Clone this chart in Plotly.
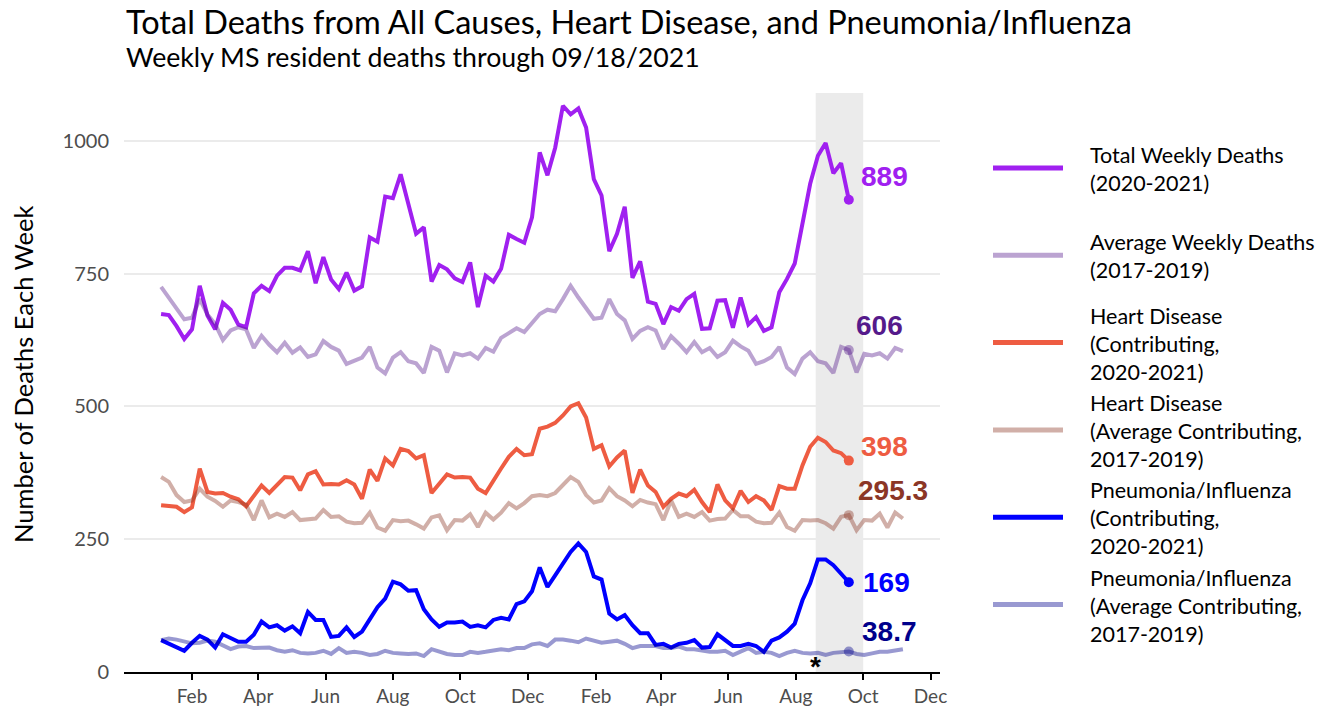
import plotly.graph_objects as go
import pandas as pd

# ---------------- data ----------------
weeks_current = pd.date_range("2020-01-04", "2021-09-18", freq="7D")   # weeks ending Saturday
weeks_avg = pd.date_range("2020-01-04", "2021-11-06", freq="7D")

total_2020_21 = [674, 672, 651, 627, 645, 727, 671, 645, 695, 682, 654, 649, 713, 727, 717, 746,
                 761, 761, 756, 792, 732, 781, 739, 721, 752, 718, 726, 818, 810, 895, 892, 937,
                 881, 825, 837, 735, 766, 758, 741, 734, 771, 687, 746, 735, 759, 823, 815, 808,
                 856, 978, 935, 987, 1066, 1050, 1061, 1025, 928, 897, 792, 825, 876, 742, 773, 697,
                 693, 655, 687, 680, 702, 712, 646, 647, 699, 700, 648, 705, 654, 668, 642, 649,
                 715, 740, 769, 843, 919, 972, 996, 939, 958, 889]

avg_total_2017_19 = [725, 705, 684, 664, 667, 702, 673, 655, 625, 643, 649, 645, 610, 633, 616, 602,
                     620, 601, 611, 593, 598, 623, 612, 605, 580, 586, 592, 612, 573, 562, 592, 602,
                     585, 581, 563, 612, 605, 564, 600, 596, 600, 590, 610, 603, 629, 638, 647, 640,
                     657, 674, 682, 679, 702, 727, 705, 685, 665, 667, 702, 674, 662, 627, 642, 649,
                     643, 608, 632, 618, 602, 621, 602, 610, 593, 602, 624, 613, 605, 580, 585, 593,
                     612, 573, 561, 590, 602, 585, 581, 563, 612, 606, 564, 599, 596, 600, 590, 610, 604]

heart_2020_21 = [314, 313, 311, 301, 310, 383, 339, 336, 337, 330, 325, 312, 331, 351, 337, 353,
                 367, 366, 342, 372, 378, 353, 354, 353, 361, 353, 326, 381, 360, 402, 389, 420,
                 416, 402, 408, 337, 356, 372, 366, 367, 366, 345, 337, 361, 383, 405, 420, 408,
                 410, 458, 462, 469, 483, 500, 506, 479, 420, 427, 387, 404, 417, 337, 381, 351,
                 339, 311, 326, 336, 331, 343, 320, 301, 353, 323, 308, 341, 320, 331, 323, 305,
                 350, 345, 345, 389, 424, 441, 433, 417, 412, 398]

avg_heart_2017_19 = [367, 358, 333, 320, 323, 345, 330, 322, 311, 323, 320, 315, 286, 323, 291, 298,
                     292, 301, 286, 288, 289, 305, 292, 293, 283, 280, 281, 300, 272, 266, 286, 284,
                     285, 278, 270, 291, 295, 267, 286, 285, 297, 273, 300, 287, 300, 318, 308, 318,
                     331, 333, 331, 337, 351, 367, 358, 333, 319, 323, 346, 331, 323, 312, 324, 319,
                     316, 286, 323, 292, 298, 292, 301, 285, 288, 289, 305, 293, 293, 283, 280, 281,
                     300, 273, 266, 286, 285, 286, 280, 270, 292, 295.3, 267, 286, 285, 298, 272, 300, 289]

pneu_2020_21 = [60, 53, 46, 40, 55, 68, 61, 46, 71, 65, 57, 57, 70, 95, 84, 88,
                78, 86, 73, 113, 98, 98, 66, 68, 84, 66, 76, 99, 122, 138, 170, 165,
                153, 154, 118, 99, 85, 93, 93, 95, 85, 88, 84, 98, 102, 99, 128, 133,
                152, 197, 160, 182, 205, 226, 242, 226, 180, 174, 110, 99, 107, 88, 73, 73,
                51, 53, 46, 53, 55, 60, 46, 47, 71, 59, 49, 49, 53, 49, 38, 59,
                65, 76, 91, 135, 167, 212, 212, 201, 186, 169]

avg_pneu_2017_19 = [60, 63, 61, 57, 54, 55, 59, 57, 51, 43, 48, 49, 45, 45, 46, 41,
                    38, 41, 36, 35, 36, 40, 34, 45, 36, 38, 36, 32, 34, 40, 36, 35,
                    34, 35, 30, 43, 38, 34, 32, 32, 38, 36, 38, 41, 43, 41, 45, 45,
                    52, 54, 49, 61, 61, 59, 56, 63, 59, 55, 57, 59, 53, 45, 49, 49,
                    49, 45, 45, 48, 43, 43, 40, 38, 38, 40, 32, 38, 45, 36, 38, 36,
                    30, 36, 40, 36, 35, 36, 32, 36, 38, 38.7, 34, 32, 35, 38, 38, 41, 43]

tick_dates = ["2020-02-01", "2020-04-01", "2020-06-01", "2020-08-01", "2020-10-01", "2020-12-01",
              "2021-02-01", "2021-04-01", "2021-06-01", "2021-08-01", "2021-10-01", "2021-12-01"]
tick_labels = ["Feb", "Apr", "Jun", "Aug", "Oct", "Dec", "Feb", "Apr", "Jun", "Aug", "Oct", "Dec"]
y_ticks = [0, 250, 500, 750, 1000]

shade_start, shade_end = "2021-08-19", "2021-10-01"

# ---------------- styling ----------------
FONT = "Lato"
C_TOTAL = "#A020F0"
C_AVG_TOTAL = "rgba(85,26,139,0.4)"
C_HEART = "#EE5C42"
C_AVG_HEART = "rgba(139,54,38,0.4)"
C_PNEU = "#0000FF"
C_AVG_PNEU = "rgba(0,0,139,0.4)"

W, H = 1326, 709
L, R, T, B = 124, 940, 93, 672   # plot area in pixels


def xp(px):
    return (px - L) / (R - L)


def yp(py):
    return (B - py) / (B - T)


series = [
    # name, x, y, line color, label color, label dx, label dy
    ("Total Weekly Deaths (2020-2021)", weeks_current, total_2020_21, C_TOTAL, C_TOTAL, 10, 23),
    ("Heart Disease (Contributing, 2020-2021)", weeks_current, heart_2020_21, C_HEART, C_HEART, 10, 14),
    ("Pneumonia/Influenza (Contributing, 2020-2021)", weeks_current, pneu_2020_21, C_PNEU, C_PNEU, 12, 0),
    ("Average Weekly Deaths (2017-2019)", weeks_avg, avg_total_2017_19, C_AVG_TOTAL, "#551A8B", 5, 25),
    ("Heart Disease (Average Contributing, 2017-2019)", weeks_avg, avg_heart_2017_19, C_AVG_HEART, "#8B3626", 7, 25),
    ("Pneumonia/Influenza (Average Contributing, 2017-2019)", weeks_avg, avg_pneu_2017_19, C_AVG_PNEU, "#00008B", 11, 20),
]

last_date = weeks_current[-1]
n_cur = len(weeks_current)

fig = go.Figure()
annotations = []
for name, x, y, col, lcol, dx, dy in series:
    fig.add_trace(go.Scatter(x=x, y=y, mode="lines", name=name,
                             line=dict(color=col, width=4), showlegend=False))
    yv = y[n_cur - 1]
    fig.add_trace(go.Scatter(x=[last_date], y=[yv], mode="markers", showlegend=False,
                             marker=dict(color=col, size=10), hoverinfo="skip"))
    annotations.append(dict(x=last_date, y=yv, xref="x", yref="y", text=f"{yv:g}",
                            showarrow=False, xanchor="left", yanchor="middle",
                            xshift=dx, yshift=dy,
                            font=dict(family="Liberation Sans", size=28, color=lcol, weight="bold")))

# asterisk marking the shaded (incomplete) period
annotations.append(dict(x=shade_start, y=11, xref="x", yref="y", text="*", showarrow=False,
                        xanchor="center", yanchor="middle",
                        font=dict(family="Liberation Sans", size=28, color="black", weight="bold")))

# titles
annotations.append(dict(x=0, y=yp(21), xref="paper", yref="paper", xanchor="left", yanchor="middle",
                        text="Total Deaths from All Causes, Heart Disease, and Pneumonia/Influenza",
                        showarrow=False, font=dict(family=FONT, size=32.5, color="black")))
annotations.append(dict(x=0, y=yp(57), xref="paper", yref="paper", xanchor="left", yanchor="middle",
                        text="Weekly MS resident deaths through 09/18/2021",
                        showarrow=False, font=dict(family=FONT, size=26.7, color="black")))
annotations.append(dict(x=xp(23), y=yp(375), xref="paper", yref="paper", xanchor="center", yanchor="middle",
                        text="Number of Deaths Each Week", textangle=-90,
                        showarrow=False, font=dict(family=FONT, size=25.5, color="black")))

# manual legend
legend_items = [
    ("Total Weekly Deaths<br>(2020-2021)", C_TOTAL),
    ("Average Weekly Deaths<br>(2017-2019)", C_AVG_TOTAL),
    ("Heart Disease<br>(Contributing,<br>2020-2021)", C_HEART),
    ("Heart Disease<br>(Average Contributing,<br>2017-2019)", C_AVG_HEART),
    ("Pneumonia/Influenza<br>(Contributing,<br>2020-2021)", C_PNEU),
    ("Pneumonia/Influenza<br>(Average Contributing,<br>2017-2019)", C_AVG_PNEU),
]
shapes = [dict(type="rect", xref="x", yref="paper", x0=shade_start, x1=shade_end, y0=0, y1=1,
               fillcolor="rgba(150,150,150,0.19)", line=dict(width=0), layer="below")]
for k, (txt, col) in enumerate(legend_items):
    ky = 168 + 87.3 * k
    shapes.append(dict(type="line", xref="paper", yref="paper", x0=xp(993), x1=xp(1063),
                       y0=yp(ky), y1=yp(ky), line=dict(color=col, width=5)))
    annotations.append(dict(x=xp(1088), y=yp(ky + 1), xref="paper", yref="paper", text=txt,
                            showarrow=False, xanchor="left", yanchor="middle", align="left",
                            font=dict(family=FONT, size=21.5, color="black")))

fig.update_layout(
    template="none",
    width=W, height=H,
    margin=dict(l=L, r=W - R, t=T, b=H - B, pad=0, autoexpand=False),
    paper_bgcolor="white", plot_bgcolor="white",
    font=dict(family=FONT),
    shapes=shapes, annotations=annotations,
    showlegend=False,
    xaxis=dict(type="date", range=["2019-12-01 09:36", "2021-12-09 14:24"], automargin=False,
               tickvals=tick_dates, ticktext=tick_labels, showgrid=False,
               showline=True, linecolor="black", linewidth=1.5,
               ticks="outside", ticklen=6, tickwidth=1.5, tickcolor="black",
               tickfont=dict(family=FONT, size=19, color="#4D4D4D"), zeroline=False),
    yaxis=dict(range=[0, 1090], tickvals=y_ticks, showgrid=True, gridcolor="#EBEBEB", gridwidth=2,
               automargin=False,
               zeroline=False, showline=False, ticks="outside", ticklen=10, tickcolor="rgba(0,0,0,0)",
               tickfont=dict(family=FONT, size=20, color="#4D4D4D")),
)

fig.write_html("out.html", config={"displayModeBar": False},
               post_script="document.body.style.margin='0px';document.body.style.padding='0px';"
                           "document.documentElement.style.overflow='hidden';")
